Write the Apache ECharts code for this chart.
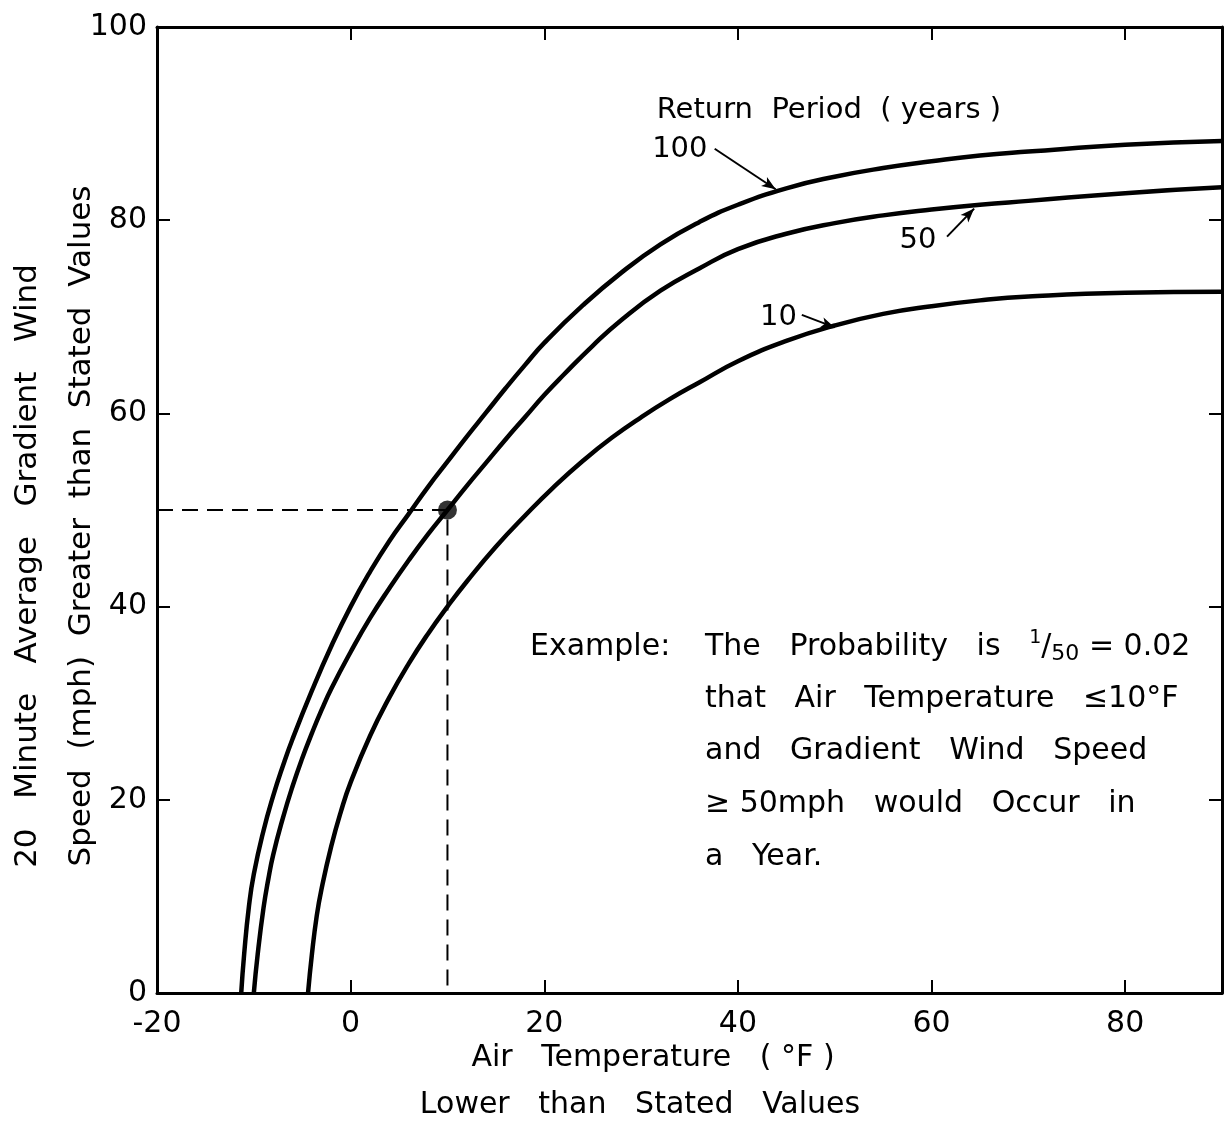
<!DOCTYPE html>
<html>
<head>
<meta charset="utf-8">
<script src="https://cdn.jsdelivr.net/npm/echarts@6/dist/echarts.min.js"></script>
<style>html,body{margin:0;padding:0;background:#fff}#c{width:1225px;height:1125px}</style>
</head>
<body>
<div id="c"></div>
<script>
// Data (air temperature °F, wind speed mph)
const temp100 = [-11.3, -11, -10.5, -10, -9, -8, -7, -6, -4, -2, 0, 2, 4, 6, 8, 10, 12, 14, 16, 18, 20, 24, 28, 32, 36, 40, 45, 50, 55, 60, 65, 70, 80, 90];
const wind100 = [0, 4, 9, 12.3, 16.8, 20.4, 23.5, 26.3, 31.3, 35.9, 40, 43.6, 46.8, 49.6, 52.4, 55.0, 57.6, 60.1, 62.6, 65.0, 67.3, 71.2, 74.6, 77.5, 79.8, 81.6, 83.3, 84.5, 85.4, 86.1, 86.7, 87.1, 87.8, 88.2];
const temp50 = [-10, -9.6, -9, -8.5, -8, -7, -6, -5, -4, -3, -2, 0, 2, 4, 6, 8, 10, 12, 14, 16, 18, 20, 22, 25, 28, 32, 36, 40, 45, 50, 55, 60, 65, 70, 80, 90];
const wind50 = [0, 4, 8.8, 11.8, 14.3, 18.1, 21.4, 24.3, 26.9, 29.3, 31.5, 35.3, 38.8, 41.9, 44.8, 47.5, 50.0, 52.5, 54.9, 57.3, 59.6, 61.9, 64.0, 67.0, 69.7, 72.7, 75.0, 77.0, 78.6, 79.7, 80.5, 81.1, 81.6, 82.0, 82.8, 83.4];
const temp10 = [-4.4, -4, -3.5, -3, -2, -1, 0, 2, 4, 6, 8, 10, 12, 15, 18, 21, 24, 27, 30, 33, 36, 40, 45, 50, 55, 60, 65, 70, 80, 90];
const wind10 = [0, 4, 8, 10.8, 15.2, 18.8, 21.8, 26.6, 30.6, 34.1, 37.2, 40.0, 42.6, 46.2, 49.4, 52.4, 55.1, 57.5, 59.6, 61.5, 63.2, 65.4, 67.5, 69.1, 70.3, 71.1, 71.7, 72.1, 72.5, 72.6];
const exampleTemp = 10, exampleWind = 50;
const xTickLabels = ['-20', '0', '20', '40', '60', '80'];
const curveLabels = [
  {text: '100', at: [34.0, 87.3], arrowFrom: [37.6, 87.4], arrowTo: [43.9, 83.2]},
  {text: '50', at: [58.6, 77.9], arrowFrom: [61.6, 78.3], arrowTo: [64.4, 81.2]},
  {text: '10', at: [44.2, 69.9], arrowFrom: [46.6, 70.2], arrowTo: [50.0, 68.9]}
];
const legendTitle = {text: 'Return  Period  ( years )', at: [49.4, 91.4]};

const zip = (a, b) => a.map((v, i) => [v, b[i]]);
const FONT = 'DejaVu Sans';
const chart = echarts.init(document.getElementById('c'), null, {renderer: 'canvas'});

const axisCommon = {
  type: 'value',
  axisLine: {show: true, onZero: false, lineStyle: {color: '#000', width: 3}},
  axisTick: {show: true, inside: true, length: 13, lineStyle: {color: '#000', width: 2}},
  splitLine: {show: false}
};
const curveStyle = {color: '#000', width: 4.5};

const option = {
  animation: false,
  backgroundColor: '#fff',
  grid: {left: 157, right: 3, top: 27, bottom: 132, containLabel: false},
  xAxis: [
    Object.assign({}, axisCommon, {
      min: -20, max: 90, interval: 20, position: 'bottom',
      axisLabel: {show: true, color: '#000', fontFamily: FONT, fontSize: 30, margin: 16,
        showMaxLabel: false,
        formatter: v => ((v + 20) % 20 === 0 ? (xTickLabels[(v + 20) / 20] || '') : '')}
    }),
    Object.assign({}, axisCommon, {
      min: -20, max: 90, interval: 20, position: 'top', axisLabel: {show: false}
    })
  ],
  yAxis: [
    Object.assign({}, axisCommon, {
      min: 0, max: 100, interval: 20, position: 'left',
      axisLabel: {show: true, color: '#000', fontFamily: FONT, fontSize: 30, margin: 10}
    }),
    Object.assign({}, axisCommon, {
      min: 0, max: 100, interval: 20, position: 'right', axisLabel: {show: false}
    })
  ],
  series: [
    {type: 'line', data: zip(temp100, wind100), smooth: 0.5, showSymbol: false, lineStyle: curveStyle},
    {type: 'line', data: zip(temp50, wind50), smooth: 0.5, showSymbol: false, lineStyle: curveStyle},
    {type: 'line', data: zip(temp10, wind10), smooth: 0.5, showSymbol: false, lineStyle: curveStyle},
    {type: 'line', data: [[-20, exampleWind], [exampleTemp, exampleWind], [exampleTemp, 0]],
      showSymbol: false, lineStyle: {color: '#000', width: 2, type: [16, 9]}},
    {type: 'scatter', data: [[exampleTemp, exampleWind]], symbolSize: 19, itemStyle: {color: '#000'}},
    {type: 'line', data: [], showSymbol: false,
      markLine: {
        silent: true, symbol: ['none', 'arrow'], symbolSize: [8, 14],
        lineStyle: {color: '#000', width: 2, type: 'solid', curveness: -0.15},
        label: {show: false},
        data: curveLabels.map(c => [{coord: c.arrowFrom}, {coord: c.arrowTo}])
      },
      markPoint: {
        silent: true, symbol: 'circle', symbolSize: 0,
        label: {show: true, color: '#000', fontFamily: FONT, fontSize: 29, position: 'inside'},
        data: curveLabels.map(c => ({coord: c.at, value: c.text, label: {formatter: c.text}}))
          .concat([{coord: legendTitle.at, value: 0, label: {formatter: legendTitle.text}}])
      }
    }
  ],
  graphic: [
    {type: 'text', x: 28, y: 566, rotation: Math.PI / 2,
      style: {text: '20   Minute   Average   Gradient   Wind', font: '31px ' + FONT, fill: '#000',
        align: 'center', verticalAlign: 'middle'}},
    {type: 'text', x: 82, y: 526, rotation: Math.PI / 2,
      style: {text: 'Speed  (mph)  Greater  than  Stated  Values', font: '31px ' + FONT, fill: '#000',
        align: 'center', verticalAlign: 'middle'}},
    {type: 'text', x: 653, y: 1058,
      style: {text: 'Air   Temperature   ( °F )', font: '30px ' + FONT, fill: '#000',
        align: 'center', verticalAlign: 'middle'}},
    {type: 'text', x: 640, y: 1105,
      style: {text: 'Lower   than   Stated   Values', font: '30px ' + FONT, fill: '#000',
        align: 'center', verticalAlign: 'middle'}},
    {type: 'text', x: 530, y: 647,
      style: {text: 'Example:', font: '30px ' + FONT, fill: '#000', align: 'left', verticalAlign: 'middle'}},
    {type: 'text', x: 705, y: 647,
      style: {text: '{a|The   Probability   is   }{sup|1}{a|/}{sub|50}{a| = 0.02}', fill: '#000',
        align: 'left', verticalAlign: 'middle',
        rich: {
          a: {font: '30px ' + FONT, fill: '#000'},
          sup: {font: '19px ' + FONT, fill: '#000', verticalAlign: 'top', padding: [0, 0, 12, 0]},
          sub: {font: '22px ' + FONT, fill: '#000', verticalAlign: 'bottom', padding: [14, 0, 0, 0]}
        }}},
    {type: 'text', x: 705, y: 699,
      style: {text: 'that   Air   Temperature   ≤10°F', font: '30px ' + FONT, fill: '#000', align: 'left', verticalAlign: 'middle'}},
    {type: 'text', x: 705, y: 751,
      style: {text: 'and   Gradient   Wind   Speed', font: '30px ' + FONT, fill: '#000', align: 'left', verticalAlign: 'middle'}},
    {type: 'text', x: 705, y: 804,
      style: {text: '≥ 50mph   would   Occur   in', font: '30px ' + FONT, fill: '#000', align: 'left', verticalAlign: 'middle'}},
    {type: 'text', x: 705, y: 857,
      style: {text: 'a   Year.', font: '30px ' + FONT, fill: '#000', align: 'left', verticalAlign: 'middle'}}
  ]
};
chart.setOption(option);
</script>
</body>
</html>
